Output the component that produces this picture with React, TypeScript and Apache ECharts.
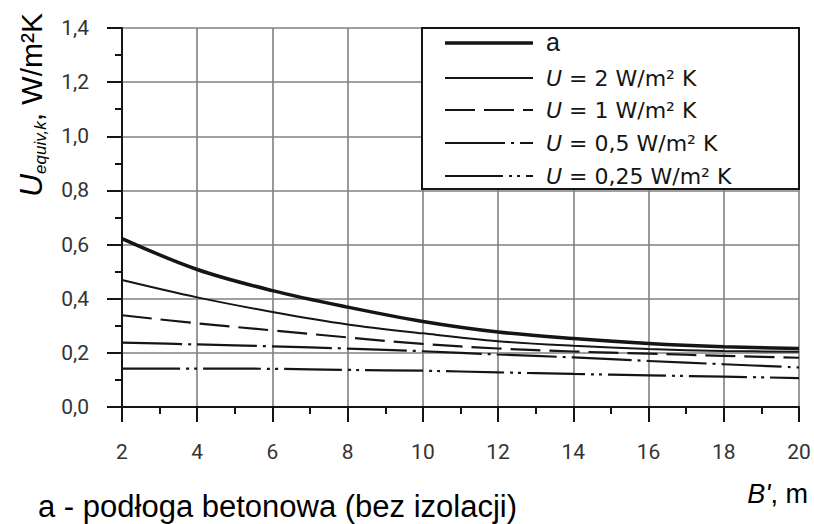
import React, { useEffect, useRef } from 'react';
import * as echarts from 'echarts';

// B', m
const xValues = [2, 4, 6, 8, 10, 12, 14, 16, 18, 20];

// U_equiv,k, W/m²K
const seriesA = [0.622, 0.508, 0.43, 0.369, 0.316, 0.277, 0.253, 0.235, 0.223, 0.216];
const seriesU2 = [0.469, 0.405, 0.351, 0.305, 0.272, 0.243, 0.226, 0.214, 0.207, 0.204];
const seriesU1 = [0.339, 0.309, 0.283, 0.257, 0.233, 0.216, 0.205, 0.197, 0.189, 0.182];
const seriesU05 = [0.238, 0.231, 0.224, 0.216, 0.206, 0.194, 0.183, 0.17, 0.158, 0.146];
const seriesU025 = [0.142, 0.142, 0.141, 0.137, 0.134, 0.128, 0.122, 0.117, 0.112, 0.107];

const seriesNames = ['a', 'U = 2 W/m² K', 'U = 1 W/m² K', 'U = 0,5 W/m² K', 'U = 0,25 W/m² K'];

const xAxisMin = 2;
const xAxisMax = 20;
const xAxisStep = 2;
const yAxisMin = 0;
const yAxisMax = 1.4;
const yAxisStep = 0.2;

const yAxisTitle = { main: 'U', sub: 'equiv,k', rest: ', W/m²K' };
const xAxisTitle = { main: "B'", rest: ', m' };
const footnote = 'a - podłoga betonowa (bez izolacji)';

const TECH_FONT = "Roboto, 'DejaVu Sans', sans-serif";
const LEGEND_FONT = "'DejaVu Sans', sans-serif";
const SANS = "'Liberation Sans', Arial, sans-serif";
const INK = '#151515';

const lineStyles = [
  { width: 3.5, dash: null as number[] | null },
  { width: 2, dash: null as number[] | null },
  { width: 2.2, dash: [30, 9] },
  { width: 2.2, dash: [60, 6, 3, 6] },
  { width: 2.2, dash: [58, 6, 3, 5, 3, 6] },
];

// legend layout (box and row positions)
const legendBox = { x: 422, y: 28, w: 377, h: 161 };
const legendRows = [43, 78, 110, 143, 176];

export default function App() {
  const ref = useRef<HTMLDivElement>(null);

  useEffect(() => {
    if (!ref.current) return;
    const chart = echarts.init(ref.current, null, { renderer: 'svg' });

    const pair = (vals: number[]) => xValues.map((x, i) => [x, vals[i]]);
    const allSeries = [seriesA, seriesU2, seriesU1, seriesU05, seriesU025];

    const legendGraphics: any[] = [
      {
        type: 'rect',
        z: 100,
        shape: { x: legendBox.x, y: legendBox.y, width: legendBox.w, height: legendBox.h },
        style: { fill: '#ffffff', stroke: INK, lineWidth: 2 },
      },
    ];
    seriesNames.forEach((name, i) => {
      const y = legendRows[i];
      legendGraphics.push({
        type: 'line',
        z: 101,
        shape: { x1: 445, y1: y, x2: 533, y2: y },
        style: {
          stroke: INK,
          lineWidth: lineStyles[i].width,
          lineDash: lineStyles[i].dash || undefined,
          lineCap: 'butt',
        },
      });
      legendGraphics.push({
        type: 'text',
        z: 101,
        x: 546,
        y: name === 'a' ? y - 1 : y,
        style: {
          text: name === 'a' ? '{a|a}' : '{u|U}{t|' + name.slice(1) + '}',
          align: 'left',
          verticalAlign: 'middle',
          rich: {
            a: { fontFamily: SANS, fontSize: 25, fill: INK },
            u: { fontFamily: LEGEND_FONT, fontStyle: 'italic', fontSize: 22, fill: INK },
            t: { fontFamily: LEGEND_FONT, fontSize: 22, fill: INK },
          },
        },
      });
    });

    chart.setOption({
      animation: false,
      backgroundColor: '#ffffff',
      grid: { left: 122, right: 15, top: 28, bottom: 117, containLabel: false },
      xAxis: {
        type: 'value',
        min: xAxisMin,
        max: xAxisMax,
        interval: xAxisStep,
        axisLine: { show: true, onZero: false, lineStyle: { color: INK, width: 2 } },
        axisTick: { show: true, length: 15, lineStyle: { color: INK, width: 2 } },
        minorTick: { show: true, splitNumber: 2, length: 7, lineStyle: { color: INK, width: 2 } },
        splitLine: { show: true, lineStyle: { color: '#808080', width: 1.6 } },
        axisLabel: {
          margin: 34,
          color: '#333',
          fontFamily: TECH_FONT,
          fontSize: 21,
        },
      },
      yAxis: {
        type: 'value',
        min: yAxisMin,
        max: yAxisMax,
        interval: yAxisStep,
        axisLine: { show: true, lineStyle: { color: INK, width: 2 } },
        axisTick: { show: true, length: 15, lineStyle: { color: INK, width: 2 } },
        minorTick: { show: true, splitNumber: 2, length: 7, lineStyle: { color: INK, width: 2 } },
        splitLine: { show: true, lineStyle: { color: '#808080', width: 1.6 } },
        axisLabel: {
          margin: 33,
          color: '#333',
          fontFamily: TECH_FONT,
          fontSize: 21,
          formatter: (v: number) => v.toFixed(1).replace('.', ','),
        },
      },
      series: allSeries.map((vals, i) => ({
        name: seriesNames[i],
        type: 'line',
        data: pair(vals),
        smooth: 0.35,
        symbol: 'none',
        color: INK,
        lineStyle: {
          color: INK,
          width: lineStyles[i].width,
          type: lineStyles[i].dash || 'solid',
          cap: 'butt',
        },
        z: 3,
      })),
      graphic: [
        ...legendGraphics,
        {
          type: 'text',
          x: 31,
          y: 105,
          rotation: Math.PI / 2,
          style: {
            text: '{u|' + yAxisTitle.main + '}{s|' + yAxisTitle.sub + '}{t|' + yAxisTitle.rest + '}',
            align: 'center',
            verticalAlign: 'middle',
            rich: {
              u: { fontFamily: SANS, fontStyle: 'italic', fontSize: 32, fill: '#000', lineHeight: 36 },
              s: { fontFamily: SANS, fontStyle: 'italic', fontSize: 17, fill: '#000', verticalAlign: 'bottom', lineHeight: 36 },
              t: { fontFamily: SANS, fontSize: 30, fill: '#000', lineHeight: 36 },
            },
          },
        },
        {
          type: 'text',
          x: 808,
          y: 494,
          style: {
            text: '{i|' + xAxisTitle.main + '}{t|' + xAxisTitle.rest + '}',
            align: 'right',
            verticalAlign: 'middle',
            rich: {
              i: { fontFamily: SANS, fontStyle: 'italic', fontSize: 27, fill: '#000' },
              t: { fontFamily: SANS, fontSize: 27, fill: '#000' },
            },
          },
        },
        {
          type: 'text',
          x: 38,
          y: 506,
          style: {
            text: footnote,
            fontFamily: SANS,
            fontSize: 31,
            fill: '#000',
            align: 'left',
            verticalAlign: 'middle',
          },
        },
      ],
    });

    return () => chart.dispose();
  }, []);

  return (
    <div
      ref={ref}
      style={{ position: 'fixed', left: 0, top: 0, width: 814, height: 524, background: '#fff' }}
    />
  );
}
